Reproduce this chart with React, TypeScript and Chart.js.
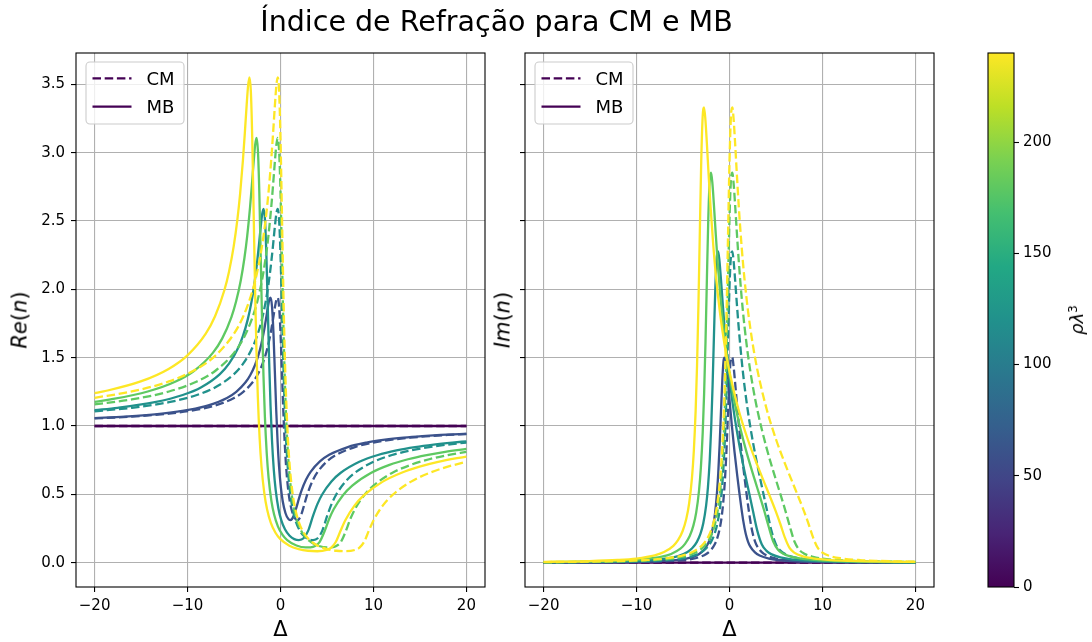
import { useEffect, useRef } from "react";
import { Chart, registerables } from "chart.js";

Chart.register(...registerables);

// Densities ρλ³ and their viridis colours (colour scale runs 0 – 240)
const RHO_VALUES = [0, 60, 120, 180, 240];
const RHO_COLORS = ["#440154", "#3b528b", "#21918c", "#5ec962", "#fde725"];
const RHO_MAX = 240;
const VIRIDIS = ["#440154", "#482475", "#414487", "#355f8d", "#2a788e", "#21918c", "#22a884", "#44bf70", "#7ad151", "#bddf26", "#fde725"];

const X_TICKS = [-20, -10, 0, 10, 20];
const Y_TICKS = [0, 0.5, 1, 1.5, 2, 2.5, 3, 3.5];
const CBAR_TICKS = [0, 50, 100, 150, 200];

// ρλ³ = 0 (both models)
const delta0 = [-20, 20];
const re0 = [1, 1];
const im0 = [0, 0];

// ρλ³ = 60
const cmDelta60 = [-20, -16, -12, -9, -7, -5, -4, -3, -2.5, -2, -1.6, -1.3, -1, -0.8, -0.6, -0.45, -0.3, -0.15, 0, 0.15, 0.3, 0.45, 0.6, 0.8, 1, 1.3, 1.6, 1.8, 2, 2.25, 2.5, 2.75, 3, 3.5, 4, 5, 6, 8, 10, 12, 14, 16, 18, 20];
const cmRe60 = [1.0554, 1.0688, 1.0907, 1.1192, 1.1507, 1.2048, 1.2498, 1.3197, 1.3715, 1.4427, 1.5218, 1.6004, 1.7016, 1.7828, 1.8688, 1.9226, 1.9388, 1.8718, 1.6834, 1.4028, 1.1159, 0.8811, 0.7077, 0.5507, 0.4501, 0.362, 0.3204, 0.3124, 0.3202, 0.3548, 0.4108, 0.4707, 0.5239, 0.6061, 0.6645, 0.7413, 0.7893, 0.8463, 0.879, 0.9002, 0.9151, 0.9261, 0.9346, 0.9413];
const cmIm60 = [0.0013, 0.0021, 0.0036, 0.0063, 0.0101, 0.0187, 0.0281, 0.0467, 0.0639, 0.093, 0.1333, 0.1836, 0.268, 0.3592, 0.5, 0.6551, 0.8646, 1.1174, 1.3543, 1.4909, 1.5022, 1.4295, 1.3203, 1.1629, 1.0131, 0.8116, 0.633, 0.5228, 0.4188, 0.3024, 0.2134, 0.155, 0.1176, 0.0752, 0.0528, 0.0304, 0.0199, 0.0105, 0.0065, 0.0044, 0.0032, 0.0024, 0.0019, 0.0015];
const mbDelta60 = [-20, -16.76, -12.76, -9.76, -7.76, -5.76, -4.76, -3.76, -3.26, -2.76, -2.36, -2.06, -1.76, -1.56, -1.36, -1.21, -1.06, -0.91, -0.76, -0.61, -0.46, -0.31, -0.16, 0.04, 0.24, 0.54, 0.84, 1.04, 1.24, 1.49, 1.74, 1.99, 2.24, 2.74, 3.24, 4.24, 5.24, 7.24, 9.24, 11.24, 13.24, 15.24, 17.24, 19.24, 20];
const mbRe60 = [1.0576, 1.0688, 1.0907, 1.1192, 1.1507, 1.2048, 1.2498, 1.3197, 1.3715, 1.4427, 1.5218, 1.6004, 1.7016, 1.7828, 1.8688, 1.9226, 1.9388, 1.8718, 1.6834, 1.4028, 1.1159, 0.8811, 0.7077, 0.5507, 0.4501, 0.362, 0.3204, 0.3124, 0.3202, 0.3548, 0.4108, 0.4707, 0.5239, 0.6061, 0.6645, 0.7413, 0.7893, 0.8463, 0.879, 0.9002, 0.9151, 0.9261, 0.9346, 0.9413, 0.9435];
const mbIm60 = [0.0015, 0.0021, 0.0036, 0.0063, 0.0101, 0.0187, 0.0281, 0.0467, 0.0639, 0.093, 0.1333, 0.1836, 0.268, 0.3592, 0.5, 0.6551, 0.8646, 1.1174, 1.3543, 1.4909, 1.5022, 1.4295, 1.3203, 1.1629, 1.0131, 0.8116, 0.633, 0.5228, 0.4188, 0.3024, 0.2134, 0.155, 0.1176, 0.0752, 0.0528, 0.0304, 0.0199, 0.0105, 0.0065, 0.0044, 0.0032, 0.0024, 0.0019, 0.0015, 0.0014];

// ρλ³ = 120
const cmDelta120 = [-20, -16, -12, -9, -7, -5, -4, -3, -2.5, -2, -1.6, -1.3, -1, -0.8, -0.6, -0.45, -0.3, -0.15, 0, 0.15, 0.3, 0.45, 0.6, 0.8, 1, 1.3, 1.6, 2, 2.5, 3, 3.5, 4, 4.5, 5, 5.5, 6, 7, 8, 10, 12, 14, 16, 18, 20];
const cmRe120 = [1.1081, 1.1334, 1.1744, 1.2268, 1.2838, 1.3798, 1.4576, 1.5763, 1.6628, 1.78, 1.9083, 2.0344, 2.1955, 2.3242, 2.4619, 2.5513, 2.5886, 2.5082, 2.2554, 1.8697, 1.4717, 1.1445, 0.9014, 0.6789, 0.5326, 0.3951, 0.3117, 0.2443, 0.197, 0.1728, 0.1654, 0.1786, 0.2349, 0.3389, 0.4305, 0.4993, 0.5945, 0.658, 0.7384, 0.7879, 0.8214, 0.8458, 0.8642, 0.8787];
const cmIm120 = [0.0026, 0.0039, 0.0067, 0.0114, 0.018, 0.0327, 0.0481, 0.0782, 0.1055, 0.1507, 0.2126, 0.2888, 0.4154, 0.5511, 0.759, 0.9874, 1.2951, 1.6677, 2.0216, 2.2373, 2.278, 2.201, 2.073, 1.8866, 1.7121, 1.4871, 1.3013, 1.0979, 0.8902, 0.7132, 0.5514, 0.3927, 0.2367, 0.1332, 0.0868, 0.063, 0.0389, 0.027, 0.0154, 0.01, 0.0071, 0.0053, 0.0041, 0.0032];
const mbDelta120 = [-20, -17.52, -13.52, -10.52, -8.52, -6.52, -5.52, -4.52, -4.02, -3.52, -3.12, -2.82, -2.52, -2.32, -2.12, -1.97, -1.82, -1.67, -1.52, -1.37, -1.22, -1.07, -0.92, -0.72, -0.52, -0.22, 0.08, 0.48, 0.98, 1.48, 1.98, 2.48, 2.98, 3.48, 3.98, 4.48, 5.48, 6.48, 8.48, 10.48, 12.48, 14.48, 16.48, 18.48, 20];
const mbRe120 = [1.1165, 1.1334, 1.1744, 1.2268, 1.2838, 1.3798, 1.4576, 1.5763, 1.6628, 1.78, 1.9083, 2.0344, 2.1955, 2.3242, 2.4619, 2.5513, 2.5886, 2.5082, 2.2554, 1.8697, 1.4717, 1.1445, 0.9014, 0.6789, 0.5326, 0.3951, 0.3117, 0.2443, 0.197, 0.1728, 0.1654, 0.1786, 0.2349, 0.3389, 0.4305, 0.4993, 0.5945, 0.658, 0.7384, 0.7879, 0.8214, 0.8458, 0.8642, 0.8787, 0.8878];
const mbIm120 = [0.003, 0.0039, 0.0067, 0.0114, 0.018, 0.0327, 0.0481, 0.0782, 0.1055, 0.1507, 0.2126, 0.2888, 0.4154, 0.5511, 0.759, 0.9874, 1.2951, 1.6677, 2.0216, 2.2373, 2.278, 2.201, 2.073, 1.8866, 1.7121, 1.4871, 1.3013, 1.0979, 0.8902, 0.7132, 0.5514, 0.3927, 0.2367, 0.1332, 0.0868, 0.063, 0.0389, 0.027, 0.0154, 0.01, 0.0071, 0.0053, 0.0041, 0.0032, 0.0028];

// ρλ³ = 180
const cmDelta180 = [-20, -16, -12, -9, -7, -5, -4, -3, -2.5, -2, -1.6, -1.3, -1, -0.8, -0.6, -0.45, -0.3, -0.15, 0, 0.15, 0.3, 0.45, 0.6, 0.8, 1, 1.3, 1.6, 2, 2.5, 3, 4, 5, 5.5, 6, 6.5, 7, 7.5, 8, 9, 10, 12, 14, 16, 18, 20];
const cmRe180 = [1.1583, 1.1946, 1.2526, 1.3257, 1.4045, 1.535, 1.6394, 1.7969, 1.9103, 2.0631, 2.229, 2.3914, 2.5978, 2.7624, 2.9388, 3.0547, 3.107, 3.0156, 2.7124, 2.2456, 1.7625, 1.3649, 1.0693, 0.7987, 0.6207, 0.4528, 0.3503, 0.2659, 0.2034, 0.1656, 0.1258, 0.1118, 0.113, 0.123, 0.1528, 0.2267, 0.3181, 0.3912, 0.4942, 0.5646, 0.6566, 0.7156, 0.757, 0.7876, 0.8113];
const cmIm180 = [0.0037, 0.0056, 0.0095, 0.0159, 0.0247, 0.0441, 0.0642, 0.1029, 0.1377, 0.195, 0.273, 0.3685, 0.5265, 0.6954, 0.9537, 1.2369, 1.6185, 2.0806, 2.5214, 2.7941, 2.8532, 2.7684, 2.6212, 2.4053, 2.2037, 1.9463, 1.7369, 1.513, 1.293, 1.116, 0.8362, 0.6056, 0.496, 0.3835, 0.2633, 0.1531, 0.0951, 0.068, 0.0426, 0.0302, 0.0181, 0.0122, 0.0088, 0.0067, 0.0053];
const mbDelta180 = [-20, -18.28, -14.28, -11.28, -9.28, -7.28, -6.28, -5.28, -4.78, -4.28, -3.88, -3.58, -3.28, -3.08, -2.88, -2.73, -2.58, -2.43, -2.28, -2.13, -1.98, -1.83, -1.68, -1.48, -1.28, -0.98, -0.68, -0.28, 0.22, 0.72, 1.72, 2.72, 3.22, 3.72, 4.22, 4.72, 5.22, 5.72, 6.72, 7.72, 9.72, 11.72, 13.72, 15.72, 17.72, 20];
const mbRe180 = [1.1771, 1.1946, 1.2526, 1.3257, 1.4045, 1.535, 1.6394, 1.7969, 1.9103, 2.0631, 2.229, 2.3914, 2.5978, 2.7624, 2.9388, 3.0547, 3.107, 3.0156, 2.7124, 2.2456, 1.7625, 1.3649, 1.0693, 0.7987, 0.6207, 0.4528, 0.3503, 0.2659, 0.2034, 0.1656, 0.1258, 0.1118, 0.113, 0.123, 0.1528, 0.2267, 0.3181, 0.3912, 0.4942, 0.5646, 0.6566, 0.7156, 0.757, 0.7876, 0.8113, 0.8326];
const mbIm180 = [0.0046, 0.0056, 0.0095, 0.0159, 0.0247, 0.0441, 0.0642, 0.1029, 0.1377, 0.195, 0.273, 0.3685, 0.5265, 0.6954, 0.9537, 1.2369, 1.6185, 2.0806, 2.5214, 2.7941, 2.8532, 2.7684, 2.6212, 2.4053, 2.2037, 1.9463, 1.7369, 1.513, 1.293, 1.116, 0.8362, 0.6056, 0.496, 0.3835, 0.2633, 0.1531, 0.0951, 0.068, 0.0426, 0.0302, 0.0181, 0.0122, 0.0088, 0.0067, 0.0053, 0.0041];

// ρλ³ = 240
const cmDelta240 = [-20, -16, -12, -9, -7, -5, -4, -3, -2.5, -2, -1.6, -1.3, -1, -0.8, -0.6, -0.45, -0.3, -0.15, 0, 0.15, 0.3, 0.45, 0.6, 0.8, 1, 1.3, 1.6, 2, 2.5, 3, 4, 5, 6, 7, 8, 8.5, 9, 9.5, 10, 11, 12, 14, 16, 18, 20];
const cmRe240 = [1.2065, 1.2528, 1.3261, 1.4178, 1.5153, 1.6759, 1.803, 1.9932, 2.1294, 2.312, 2.5093, 2.7019, 2.9459, 3.1404, 3.3489, 3.4867, 3.5512, 3.4498, 3.1037, 2.5679, 2.0127, 1.5556, 1.2159, 0.9047, 0.7001, 0.5072, 0.3893, 0.2919, 0.2194, 0.1748, 0.125, 0.1, 0.0875, 0.0841, 0.0935, 0.1103, 0.1532, 0.2333, 0.3095, 0.418, 0.4924, 0.5915, 0.6564, 0.7028, 0.7378];
const cmIm240 = [0.0047, 0.0071, 0.0119, 0.0198, 0.0305, 0.0539, 0.0778, 0.1237, 0.1647, 0.232, 0.3233, 0.4349, 0.6191, 0.8157, 1.116, 1.445, 1.8881, 2.4251, 2.9381, 3.2579, 3.3313, 3.2386, 3.0737, 2.8312, 2.6049, 2.3169, 2.0842, 1.8376, 1.5986, 1.41, 1.1226, 0.9032, 0.7191, 0.5506, 0.3797, 0.2851, 0.1832, 0.108, 0.0735, 0.045, 0.0321, 0.0196, 0.0136, 0.01, 0.0077];
const mbDelta240 = [-20, -19.04, -15.04, -12.04, -10.04, -8.04, -7.04, -6.04, -5.54, -5.04, -4.64, -4.34, -4.04, -3.84, -3.64, -3.49, -3.34, -3.19, -3.04, -2.89, -2.74, -2.59, -2.44, -2.24, -2.04, -1.74, -1.44, -1.04, -0.54, -0.04, 0.96, 1.96, 2.96, 3.96, 4.96, 5.46, 5.96, 6.46, 6.96, 7.96, 8.96, 10.96, 12.96, 14.96, 16.96, 20];
const mbRe240 = [1.2399, 1.2528, 1.3261, 1.4178, 1.5153, 1.6759, 1.803, 1.9932, 2.1294, 2.312, 2.5093, 2.7019, 2.9459, 3.1404, 3.3489, 3.4867, 3.5512, 3.4498, 3.1037, 2.5679, 2.0127, 1.5556, 1.2159, 0.9047, 0.7001, 0.5072, 0.3893, 0.2919, 0.2194, 0.1748, 0.125, 0.1, 0.0875, 0.0841, 0.0935, 0.1103, 0.1532, 0.2333, 0.3095, 0.418, 0.4924, 0.5915, 0.6564, 0.7028, 0.7378, 0.777];
const mbIm240 = [0.0064, 0.0071, 0.0119, 0.0198, 0.0305, 0.0539, 0.0778, 0.1237, 0.1647, 0.232, 0.3233, 0.4349, 0.6191, 0.8157, 1.116, 1.445, 1.8881, 2.4251, 2.9381, 3.2579, 3.3313, 3.2386, 3.0737, 2.8312, 2.6049, 2.3169, 2.0842, 1.8376, 1.5986, 1.41, 1.1226, 0.9032, 0.7191, 0.5506, 0.3797, 0.2851, 0.1832, 0.108, 0.0735, 0.045, 0.0321, 0.0196, 0.0136, 0.01, 0.0077, 0.0055];

type Curve = { delta: number[]; re: number[]; im: number[] };

const CM_CURVES: Curve[] = [
  { delta: delta0, re: re0, im: im0 },
  { delta: cmDelta60, re: cmRe60, im: cmIm60 },
  { delta: cmDelta120, re: cmRe120, im: cmIm120 },
  { delta: cmDelta180, re: cmRe180, im: cmIm180 },
  { delta: cmDelta240, re: cmRe240, im: cmIm240 },
];
const MB_CURVES: Curve[] = [
  { delta: delta0, re: re0, im: im0 },
  { delta: mbDelta60, re: mbRe60, im: mbIm60 },
  { delta: mbDelta120, re: mbRe120, im: mbIm120 },
  { delta: mbDelta180, re: mbRe180, im: mbIm180 },
  { delta: mbDelta240, re: mbRe240, im: mbIm240 },
];

const FONT = '"DejaVu Sans", "Liberation Sans", sans-serif';
const GRID_COLOR = "#b0b0b0";
const LINE_WIDTH = 2.3;
const CM_DASH = [8.5, 3.7];
const Y_MIN = -0.1776;
const Y_MAX = 3.7288;

const minus = (v: number) => (v < 0 ? "\u2212" + String(Math.abs(v)) : String(v));

function buildDatasets(part: "re" | "im") {
  const sets: any[] = [];
  RHO_VALUES.forEach((rho, i) => {
    const cm = CM_CURVES[i];
    const mb = MB_CURVES[i];
    sets.push({
      label: `CM ρλ³=${rho}`,
      data: cm.delta.map((d, k) => ({ x: d, y: cm[part][k] })),
      borderColor: RHO_COLORS[i],
      borderDash: CM_DASH,
    });
    sets.push({
      label: `MB ρλ³=${rho}`,
      data: mb.delta.map((d, k) => ({ x: d, y: mb[part][k] })),
      borderColor: RHO_COLORS[i],
      borderDash: [],
    });
  });
  const n = sets.length;
  return sets.map((s, k) => ({
    ...s,
    order: n - k,
    borderWidth: LINE_WIDTH,
    pointRadius: 0,
    fill: false,
    cubicInterpolationMode: "monotone",
    borderJoinStyle: "round",
  }));
}

// Black box around the plotting area plus the CM / MB legend in the upper-left corner
const framePlugin = {
  id: "axesFrameAndLegend",
  afterDatasetsDraw(chart: any) {
    const { ctx, chartArea: a } = chart;
    ctx.save();
    ctx.strokeStyle = "#000";
    ctx.lineWidth = 1.1;
    ctx.setLineDash([]);
    ctx.strokeRect(a.left, a.top, a.right - a.left, a.bottom - a.top);

    const bx = a.left + 10;
    const by = a.top + 9;
    const bw = 98;
    const bh = 62;
    const r = 4;
    ctx.beginPath();
    ctx.moveTo(bx + r, by);
    ctx.lineTo(bx + bw - r, by);
    ctx.arcTo(bx + bw, by, bx + bw, by + r, r);
    ctx.lineTo(bx + bw, by + bh - r);
    ctx.arcTo(bx + bw, by + bh, bx + bw - r, by + bh, r);
    ctx.lineTo(bx + r, by + bh);
    ctx.arcTo(bx, by + bh, bx, by + bh - r, r);
    ctx.lineTo(bx, by + r);
    ctx.arcTo(bx, by, bx + r, by, r);
    ctx.closePath();
    ctx.fillStyle = "rgba(255,255,255,0.8)";
    ctx.fill();
    ctx.strokeStyle = "#cccccc";
    ctx.lineWidth = 1.1;
    ctx.stroke();

    const entries = [
      { label: "CM", dash: CM_DASH, dy: 16.3 },
      { label: "MB", dash: [] as number[], dy: 44.7 },
    ];
    ctx.font = `18px ${FONT}`;
    ctx.textAlign = "left";
    ctx.textBaseline = "alphabetic";
    entries.forEach((e) => {
      const y = by + e.dy;
      ctx.beginPath();
      ctx.setLineDash(e.dash);
      ctx.strokeStyle = RHO_COLORS[0];
      ctx.lineWidth = LINE_WIDTH;
      ctx.moveTo(bx + 6.5, y);
      ctx.lineTo(bx + 45.5, y);
      ctx.stroke();
      ctx.setLineDash([]);
      ctx.fillStyle = "#000";
      ctx.fillText(e.label, bx + 60.5, y + 6.5);
    });
    ctx.restore();
  },
};

function panelConfig(part: "re" | "im", yAxisWidth: number, paddingRight: number, showYLabels: boolean): any {
  return {
    type: "line",
    data: { datasets: buildDatasets(part) },
    options: {
      responsive: false,
      animation: false,
      devicePixelRatio: 1,
      events: [],
      layout: { padding: { left: 0, top: 53, right: paddingRight, bottom: 0 } },
      plugins: { legend: { display: false }, tooltip: { enabled: false } },
      scales: {
        x: {
          type: "linear",
          min: -22,
          max: 22,
          afterBuildTicks: (s: any) => {
            s.ticks = X_TICKS.map((v) => ({ value: v }));
          },
          afterFit: (s: any) => {
            s.height = 55;
          },
          grid: { color: GRID_COLOR, lineWidth: 1.1, drawTicks: true, tickLength: 5, tickColor: "#000", tickWidth: 1.1 },
          border: { display: false },
          ticks: {
            font: { family: FONT, size: 15 },
            color: "#000",
            padding: 5,
            maxRotation: 0,
            autoSkip: false,
            callback: (v: number) => minus(v),
          },
        },
        y: {
          type: "linear",
          min: Y_MIN,
          max: Y_MAX,
          afterBuildTicks: (s: any) => {
            s.ticks = Y_TICKS.map((v) => ({ value: v }));
          },
          afterFit: (s: any) => {
            s.width = yAxisWidth;
          },
          grid: { color: GRID_COLOR, lineWidth: 1.1, drawTicks: true, tickLength: 5, tickColor: "#000", tickWidth: 1.1 },
          border: { display: false },
          ticks: {
            font: { family: FONT, size: 15 },
            color: "#000",
            padding: 6,
            autoSkip: false,
            callback: (v: number) => (showYLabels ? v.toFixed(1) : ""),
          },
        },
      },
    },
    plugins: [framePlugin],
  };
}

// Vertical viridis colour bar for ρλ³
const colorbarPlugin = {
  id: "viridisBar",
  beforeDatasetsDraw(chart: any) {
    const { ctx, chartArea: a } = chart;
    ctx.save();
    const g = ctx.createLinearGradient(0, a.bottom, 0, a.top);
    VIRIDIS.forEach((c, i) => g.addColorStop(i / (VIRIDIS.length - 1), c));
    ctx.fillStyle = g;
    ctx.fillRect(a.left, a.top, a.right - a.left, a.bottom - a.top);
    ctx.strokeStyle = "#000";
    ctx.lineWidth = 1.1;
    ctx.strokeRect(a.left, a.top, a.right - a.left, a.bottom - a.top);
    ctx.restore();
  },
};

function colorbarConfig(): any {
  return {
    type: "line",
    data: { datasets: [] },
    options: {
      responsive: false,
      animation: false,
      devicePixelRatio: 1,
      events: [],
      layout: { padding: { left: 28, top: 53, right: 0, bottom: 55 } },
      plugins: { legend: { display: false }, tooltip: { enabled: false } },
      scales: {
        x: { type: "linear", display: false, min: 0, max: 1 },
        y: {
          type: "linear",
          position: "right",
          min: 0,
          max: RHO_MAX,
          afterBuildTicks: (s: any) => {
            s.ticks = CBAR_TICKS.map((v) => ({ value: v }));
          },
          afterFit: (s: any) => {
            s.width = 78;
          },
          grid: { drawOnChartArea: false, drawTicks: true, tickLength: 5, tickColor: "#000", tickWidth: 1.1 },
          border: { display: false },
          ticks: { font: { family: FONT, size: 15 }, color: "#000", padding: 4, autoSkip: false },
        },
      },
    },
    plugins: [colorbarPlugin],
  };
}

const abs = (o: any) => ({ position: "absolute" as const, ...o });

export default function App() {
  const reRef = useRef<HTMLCanvasElement>(null);
  const imRef = useRef<HTMLCanvasElement>(null);
  const cbRef = useRef<HTMLCanvasElement>(null);

  useEffect(() => {
    const charts = [
      new Chart(reRef.current as HTMLCanvasElement, panelConfig("re", 76, 15, true)),
      new Chart(imRef.current as HTMLCanvasElement, panelConfig("im", 25, 16, false)),
      new Chart(cbRef.current as HTMLCanvasElement, colorbarConfig()),
    ];
    return () => charts.forEach((c) => c.destroy());
  }, []);

  const axisLabel = { fontFamily: FONT, fontSize: 21, lineHeight: "21px", color: "#000", whiteSpace: "nowrap" as const };

  return (
    <div style={{ position: "fixed", left: 0, top: 0, width: 1092, height: 642, background: "#fff", overflow: "hidden" }}>
      <canvas ref={reRef} width={500} height={642} style={abs({ left: 0, top: 0, width: 500, height: 642 })} />
      <canvas ref={imRef} width={450} height={642} style={abs({ left: 500, top: 0, width: 450, height: 642 })} />
      <canvas ref={cbRef} width={132} height={642} style={abs({ left: 960, top: 0, width: 132, height: 642 })} />

      <div style={abs({ left: 0, top: 7, width: 993, textAlign: "center", fontFamily: FONT, fontSize: 28.5, lineHeight: "29px", color: "#000", whiteSpace: "nowrap" })}>
        Índice de Refração para CM e MB
      </div>

      <div style={abs({ left: 230.5, top: 619, width: 100, textAlign: "center", ...axisLabel })}>Δ</div>
      <div style={abs({ left: 679.5, top: 619, width: 100, textAlign: "center", ...axisLabel })}>Δ</div>

      <div style={abs({ left: 20, top: 320, transform: "translate(-50%, -50%) rotate(-90deg)", ...axisLabel })}>
        <i>Re</i>(<i>n</i>)
      </div>
      <div style={abs({ left: 503, top: 320, transform: "translate(-50%, -50%) rotate(-90deg)", ...axisLabel })}>
        <i>Im</i>(<i>n</i>)
      </div>

      <div style={abs({ left: 1075, top: 320, transform: "translate(-50%, -50%) rotate(-90deg)", fontFamily: FONT, fontSize: 18, lineHeight: "18px", color: "#000", whiteSpace: "nowrap" })}>
        <i>ρλ</i>
        <sup style={{ fontSize: 12, verticalAlign: "6px" }}>3</sup>
      </div>
    </div>
  );
}
